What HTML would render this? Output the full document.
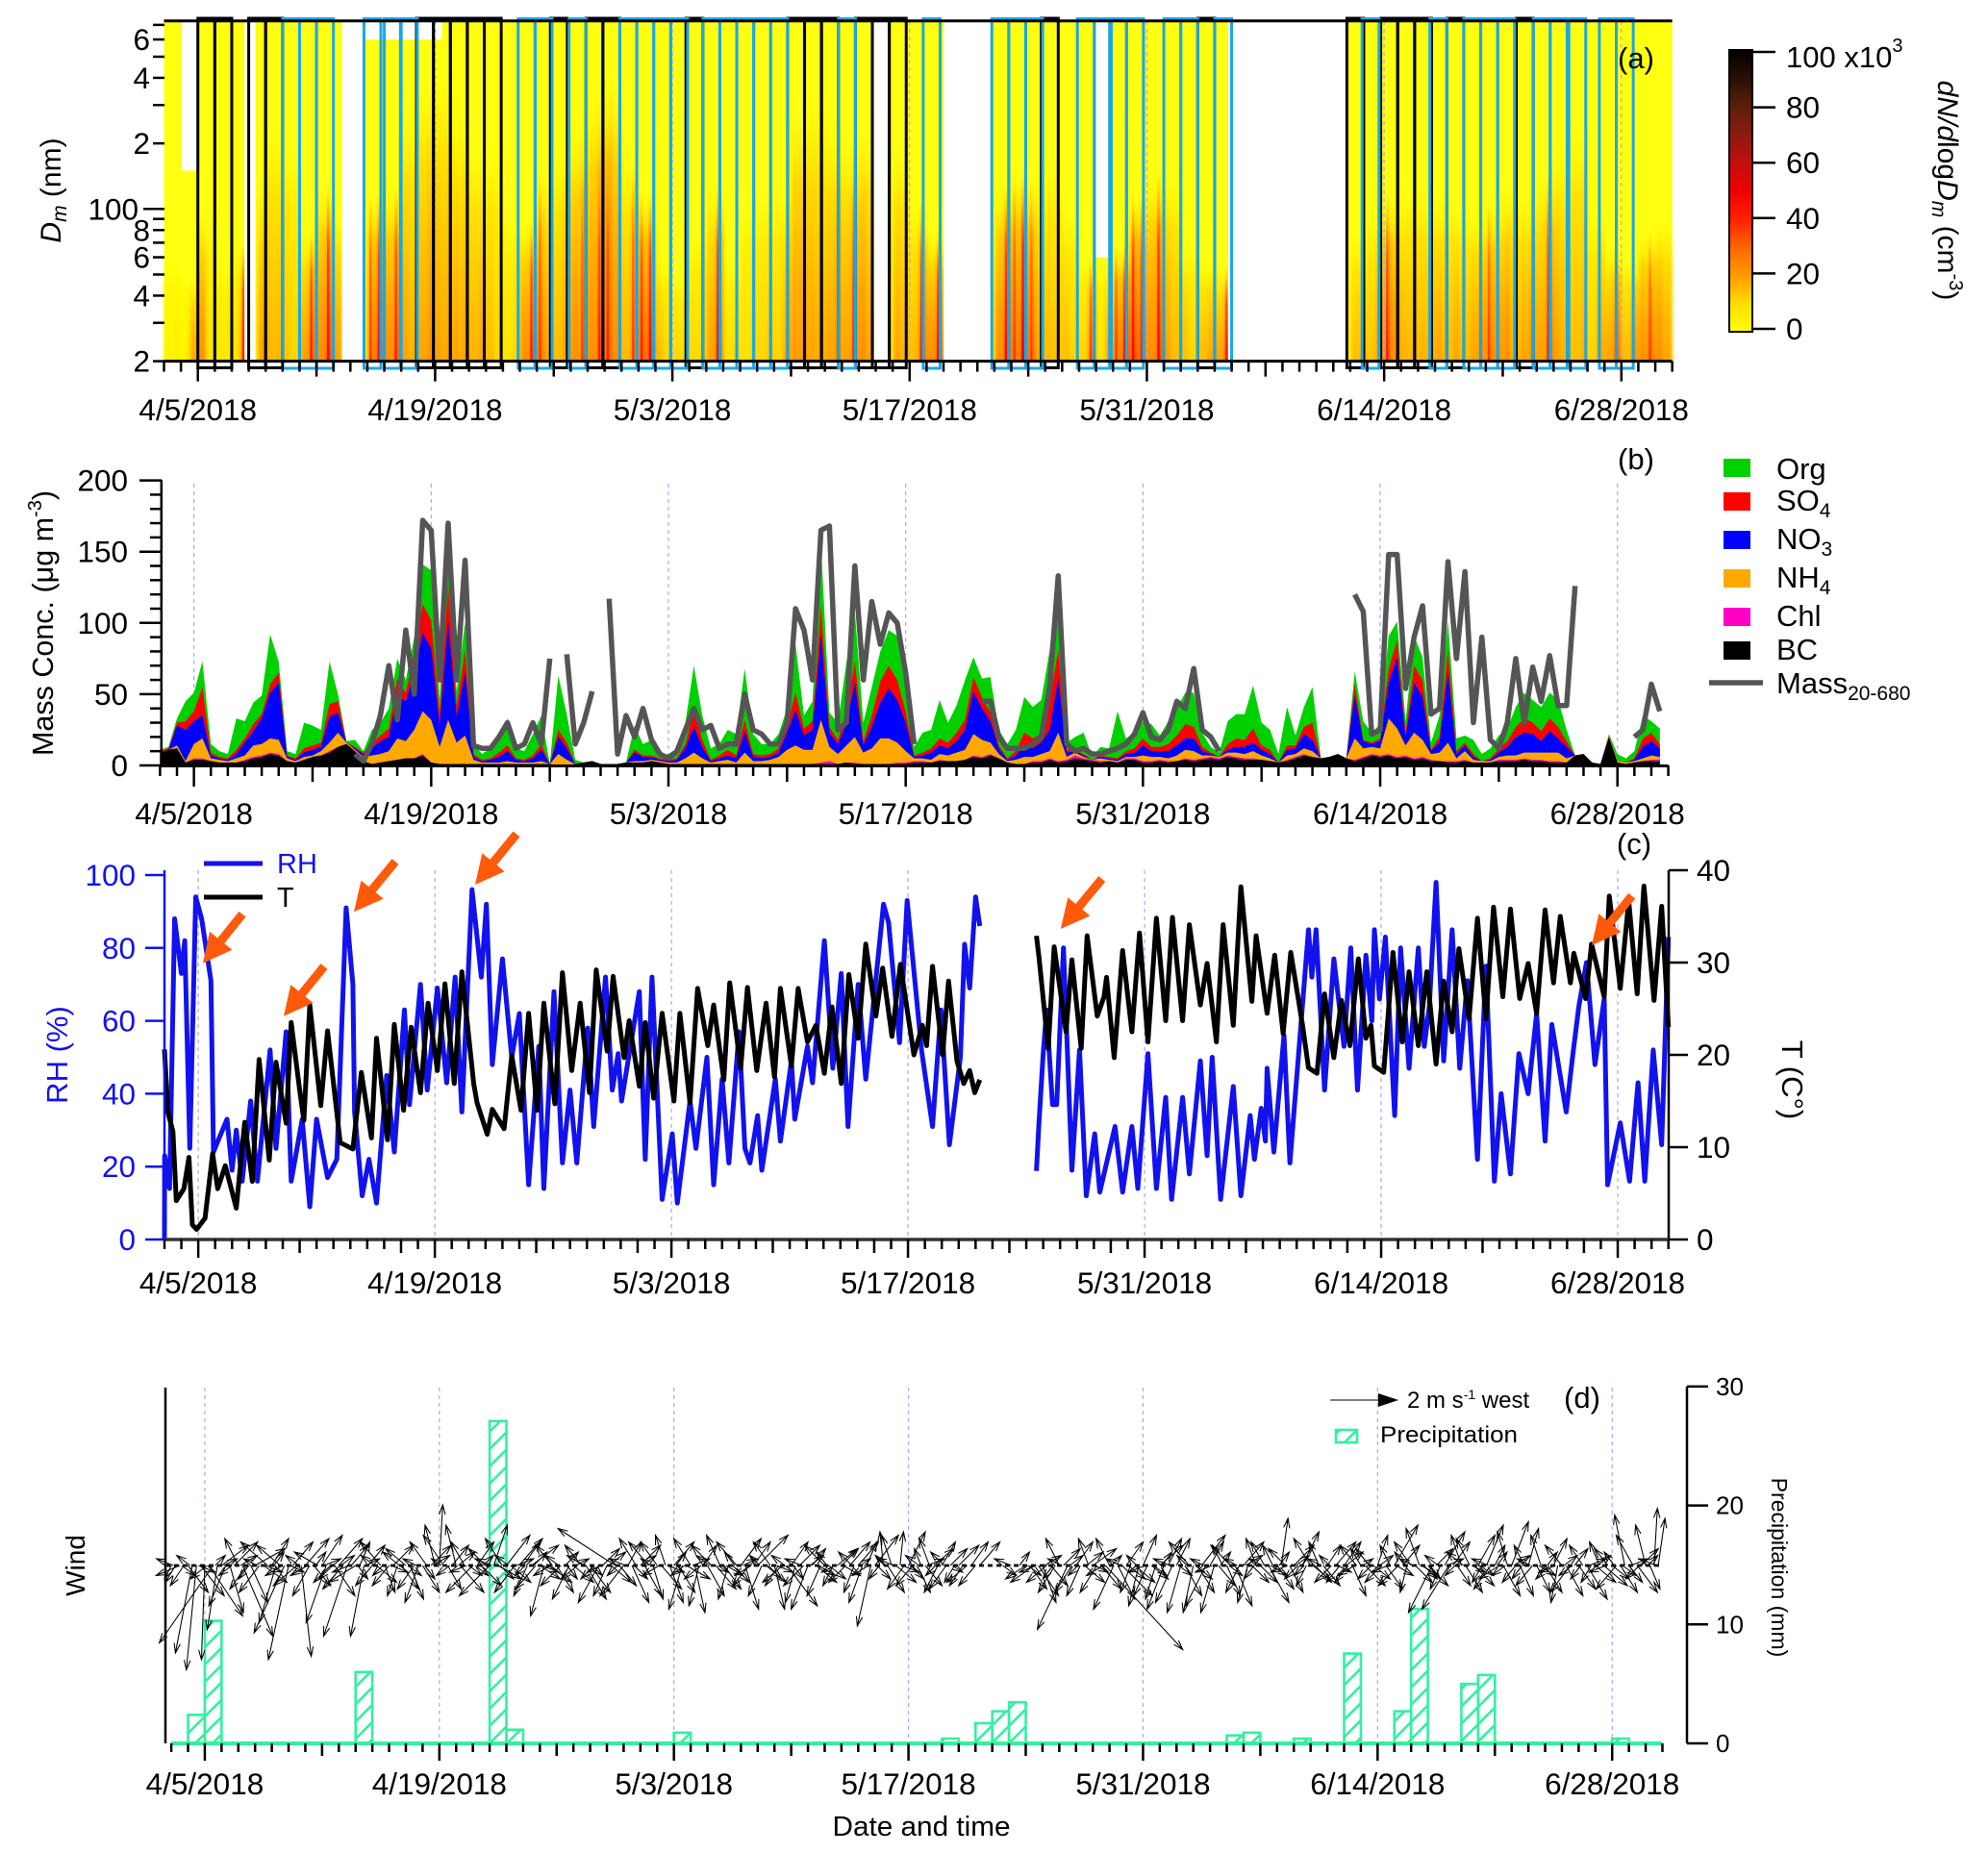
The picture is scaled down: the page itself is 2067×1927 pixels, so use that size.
<!DOCTYPE html>
<html lang="en">
<head>
<meta charset="utf-8">
<title>Aerosol size distribution, mass, RH, T, wind and precipitation</title>
<style>
html,body{margin:0;padding:0;background:#fff}
svg{display:block;font-family:"Liberation Sans",sans-serif}
</style>
</head>
<body>
<svg id="chart" xmlns="http://www.w3.org/2000/svg" width="2067" height="1927" viewBox="0 0 2067 1927">
<defs>
<pattern id="hatch" patternUnits="userSpaceOnUse" width="18" height="18">
<path d="M-3 3L3 -3M0 18L18 0M15 21L21 15" stroke="#33f0a0" stroke-width="2.6" fill="none"/>
</pattern>
<linearGradient id="cbar" x1="0" y1="1" x2="0" y2="0">
<stop offset="0" stop-color="#ffff00"/><stop offset=".1" stop-color="#ffdd00"/><stop offset=".2" stop-color="#ff9a00"/>
<stop offset=".3" stop-color="#ff6600"/><stop offset=".4" stop-color="#ff2000"/><stop offset=".5" stop-color="#f00000"/>
<stop offset=".6" stop-color="#c01010"/><stop offset=".7" stop-color="#8c1a10"/><stop offset=".8" stop-color="#5a200a"/>
<stop offset=".9" stop-color="#2a0f05"/><stop offset="1" stop-color="#000"/>
</linearGradient>
<filter id="heatBlur" filterUnits="userSpaceOnUse" x="160" y="10" width="1600" height="380">
<feGaussianBlur stdDeviation="2 0"/>
</filter>
</defs>

<g id="panelA"></g>
<g id="panelB"></g>
<g id="panelC"></g>
<g id="panelD"></g>

<g>
<text transform="rotate(-90 53 198)" x="53" y="208" font-size="30" text-anchor="middle"><tspan font-style="italic">D</tspan><tspan font-style="italic" font-size="21" dy="6">m</tspan><tspan dy="-6">  (nm)</tspan></text>
<text x="1701" y="71" font-size="31" text-anchor="middle">(a)</text>
<rect x="1798" y="52" width="24" height="293" fill="url(#cbar)" stroke="#000" stroke-width="2"/>
<text x="1857" y="70" font-size="31">100 x10<tspan font-size="20" dy="-16">3</tspan></text>
<text transform="rotate(90 2025 198)" x="2025" y="208" font-size="30" text-anchor="middle"><tspan font-style="italic">dN/d</tspan>log<tspan font-style="italic">D</tspan><tspan font-style="italic" font-size="21" dy="6">m</tspan><tspan dy="-6">  (cm</tspan><tspan font-size="20" dy="-12">-3</tspan><tspan dy="12">)</tspan></text>
</g>

<g>
<text transform="rotate(-90 45 648)" x="45" y="658" font-size="30.5" text-anchor="middle">Mass Conc.  (μg m<tspan font-size="20" dy="-12">-3</tspan><tspan dy="12">)</tspan></text>
<text x="1701" y="488" font-size="31" text-anchor="middle">(b)</text>
<rect x="1792" y="477" width="28" height="19" fill="#00d000"/>
<text x="1847" y="498" font-size="31">Org</text>
<rect x="1792" y="512" width="28" height="19" fill="#ff0000"/>
<text x="1847" y="531" font-size="31">SO<tspan font-size="21" dy="7">4</tspan></text>
<rect x="1792" y="552" width="28" height="19" fill="#0000ff"/>
<text x="1847" y="571" font-size="31">NO<tspan font-size="21" dy="7">3</tspan></text>
<rect x="1792" y="592" width="28" height="19" fill="#ffa800"/>
<text x="1847" y="611" font-size="31">NH<tspan font-size="21" dy="7">4</tspan></text>
<rect x="1792" y="632" width="28" height="19" fill="#ff00c8"/>
<text x="1847" y="651" font-size="31">Chl</text>
<rect x="1792" y="667" width="28" height="19" fill="#000"/>
<text x="1847" y="686" font-size="31">BC</text>
<line x1="1777" y1="710" x2="1833" y2="710" stroke="#555" stroke-width="5.5"/>
<text x="1847" y="721" font-size="31">Mass<tspan font-size="21" dy="7">20-680</tspan></text>
</g>

<g>
<text transform="rotate(-90 60 1097)" x="60" y="1107" font-size="31" fill="#1212ee" text-anchor="middle">RH (%)</text>
<text transform="rotate(90 1863 1123)" x="1863" y="1133" font-size="31" text-anchor="middle">T  (C°)</text>
<text x="1699" y="888" font-size="31" text-anchor="middle">(c)</text>
<line x1="212" y1="898" x2="273" y2="898" stroke="#1212ee" stroke-width="5"/>
<text x="288" y="908" font-size="29" fill="#1212ee">RH</text>
<line x1="212" y1="933" x2="273" y2="933" stroke="#000" stroke-width="5"/>
<text x="288" y="943" font-size="29">T</text>
</g>

<g>
<text transform="rotate(-90 78 1628)" x="78" y="1638" font-size="28" text-anchor="middle">Wind</text>
<text transform="rotate(90 1850 1630)" x="1850" y="1638" font-size="23" text-anchor="middle">Precipitation (mm)</text>
<text x="958" y="1909" font-size="29" text-anchor="middle" textLength="185" lengthAdjust="spacingAndGlyphs">Date and time</text>
<line x1="1383" y1="1456" x2="1435" y2="1456" stroke="#333" stroke-width="1.3"/>
<polygon points="1433,1449 1454,1456 1433,1463" fill="#000"/>
<text x="1463" y="1464" font-size="24">2 m s<tspan font-size="14" dy="-9">-1</tspan><tspan dy="9"> west</tspan></text>
<text x="1645" y="1464" font-size="31" text-anchor="middle">(d)</text>
<rect x="1389" y="1487" width="22" height="13" fill="url(#hatch)" stroke="#33f0a0" stroke-width="2.6"/>
<text x="1435" y="1500" font-size="24" textLength="143" lengthAdjust="spacingAndGlyphs">Precipitation</text>
</g>
</svg>

<script>
// ---------- shared axis data ----------
const dateLabels = ['4/5/2018','4/19/2018','5/3/2018','5/17/2018','5/31/2018','6/14/2018','6/28/2018'];
const dateDays = [2,16,30,44,58,72,86];
const mediumDays = [9,23,37,51,65,79];
const mediumDaysC = [8,14,22,28,36,42,50,56,64,70,78,84];
const lastDay = 89;

// ---------- panel (a) data ----------
const sizeTicks = [20,30,40,50,60,70,80,90,100,200,300,400,500,600,700];
const sizeLabelValues = [20,40,60,80,100,200,400,600];
const sizeLabels = ['2','4','6','8','100','2','4','6'];
const colorbarValues = [0,20,40,60,80];
const colorbarTopValue = 100;
const colormapValues = [0,10,20,30,40,50,60,70,80,90,100];
const colormapColors = [[255,255,0],[255,221,0],[255,154,0],[255,102,0],[255,32,0],[240,0,0],[192,16,16],[140,26,16],[90,32,10],[42,15,5],[0,0,0]];
const heatPeak = [
5,6,4,25,30,10,10,10,12,40,0,25,22,22,18,15,25,40,30,45,
25,20,0,0,35,45,30,40,25,22,25,30,25,25,25,25,22,25,20,15,
10,15,30,40,35,25,20,28,30,35,30,40,40,30,20,35,40,45,20,15,
15,15,15,15,25,45,12,15,12,15,15,18,15,25,28,30,25,25,25,30,
25,35,30,25,0,0,25,22,20,40,30,45,0,0,0,0,0,0,30,45,
35,50,35,25,20,20,20,15,15,35,10,25,35,45,45,40,30,45,25,20,
20,15,20,25,25,40,0,0,0,0,0,0,0,0,0,0,0,0,0,0,
20,22,18,30,40,30,22,22,22,25,25,20,25,20,25,30,35,30,30,22,
25,30,25,40,25,22,20,22,15,25,25,40,20,30,30,35,30,25];
const heatTop = [60,50,100,60,70,150,250,200,80,130,100,30,120,130,300,400,450,300,200,200,
100,90,150,200,250,350,400,180,120,60,50,80,130,60,110,120,130,300,350,250,
220,250,30,200,110,80,30,30,30,130,150,140,180,100,60,60,70,120,150,150,
70,60,55,30,30,30,30,30,30,30,80,100,120,130,130,120,110,100,110,130,
120,150,200,250,100,70,60,80,90];
const gapStarts = [1.05,4.75,10.5,11.9,41.9,46,55,62.8];
const gapEnds = [2,5.4,11.8,16.4,42.8,48.85,55.8,69.8];
const gapCeilingsNm = [150,20,20,600,20,20,60,20];
const blackBoxStarts = [2,3,5,6,14.9,15.9,16.9,17.9,18.9,22.8,24.9,25.9,30.8,36.8,37.8,38.8,40.8,41.8,42.8,51.77,61,69.8,71.8,72.8,73.8,75.7,79.8];
const blueBoxStarts = [7,8,9,11.8,13,13.95,20.9,21.9,23.9,26.9,27.9,28.9,29.9,31.8,32.8,33.8,34.8,35.8,39.8,44.8,48.85,49.85,50.85,53.9,54.9,55.8,56.8,59,60,62,70.7,74.7,76.7,77.7,78.7,80.8,81.8,82.9,84.7,85.7];

// ---------- panel (b) data, half-day samples from 4/3 ----------
const massTickLabels = [0,50,100,150,200];
const bc = [9,11,12,2,4,4,3,2,2,2,3,5,6,8,7,3,2,4,6,7,
9,13,15,10,3,1,2,3,4,5,5,7,2,1,1,1,1,1,1,1,
1,1,1,1,1,1,1,0,0,1,2,3,1,1,1,2,2,2,3,2,
1,1,1,1,1,1,1,1,1,1,1,1,1,1,1,1,1,1,1,1,
1,2,1,1,1,1,1,1,1,2,2,2,3,3,3,4,6,5,7,5,
2,1,1,2,2,4,2,3,5,4,3,2,3,2,4,4,2,2,3,2,
3,4,3,4,5,4,6,5,4,4,4,3,2,3,5,7,6,5,6,8,
5,3,5,7,6,7,5,6,4,5,3,3,2,2,3,2,2,2,3,3,
3,4,3,3,2,2,2,7,8,2,1,20,2,1,2,3,3,3];
const chl = [0,0,0,0,1,1,0,0,0,0,1,1,1,1,1,0,0,0,0,0,
1,0,0,0,0,0,0,0,0,0,0,1,0,0,0,0,0,0,0,0,
0,0,0,0,0,0,0,0,0,0,0,0,0,0,0,0,0,0,0,0,
0,0,0,0,0,0,0,0,0,0,0,0,0,0,0,0,0,0,1,2,
0,0,1,0,0,0,0,1,1,1,1,0,1,0,0,0,1,1,1,0,
0,0,0,1,1,1,1,1,2,1,1,1,0,0,1,1,1,1,1,1,
0,1,1,1,1,1,1,1,1,1,0,0,0,1,1,1,0,0,0,0,
0,1,1,1,1,1,1,1,1,1,1,0,1,1,1,0,0,0,1,1,
1,1,1,1,1,1,0,0,0,0,0,0,0,0,0,0,1,1];
const nh4 = [0,0,2,1,10,14,2,2,1,3,3,8,8,10,10,2,1,2,1,3,
6,10,1,1,3,6,6,7,15,12,20,30,30,12,31,15,20,3,1,1,
1,2,1,1,1,2,0,8,4,0,0,0,0,0,0,0,1,1,1,1,
1,1,4,8,4,1,2,3,1,8,2,2,3,5,10,13,10,10,30,10,
7,12,18,8,11,18,18,14,8,2,2,2,4,4,6,7,15,12,8,3,
1,3,5,3,5,5,20,2,2,1,0,2,1,1,1,1,4,3,2,2,
4,6,6,2,1,1,2,3,3,5,3,2,0,3,2,4,4,0,0,0,
0,15,6,5,5,25,20,7,18,12,4,6,13,2,6,2,1,1,2,3,
3,4,5,5,6,6,3,0,0,0,0,1,1,1,1,2,3,2];
const no3 = [0,0,14,22,16,16,2,1,1,3,9,10,18,32,40,1,1,3,4,3,
18,14,0,1,2,5,9,10,30,28,40,55,50,15,70,18,45,2,1,2,
4,7,2,1,3,8,0,12,8,0,0,0,0,0,0,0,6,3,2,1,
1,2,7,18,8,1,2,3,3,15,3,2,2,3,12,25,10,14,60,10,
7,15,38,5,15,25,35,30,20,1,2,5,6,5,8,14,30,22,15,4,
1,3,8,6,8,15,38,3,1,1,0,1,1,1,2,3,7,4,4,5,
7,8,9,3,1,0,2,4,5,6,4,3,0,4,4,10,8,0,0,0,
0,30,5,2,5,25,50,6,35,30,2,7,50,3,4,2,0,1,3,6,
13,14,13,8,15,10,8,0,0,0,0,0,0,0,1,8,10,6];
const so4 = [1,1,2,6,7,20,2,1,1,3,3,5,3,6,7,1,1,3,3,3,
9,8,0,1,1,3,4,6,12,6,15,20,20,8,25,8,15,2,1,1,
3,4,1,1,2,4,0,5,4,0,0,0,0,0,0,0,2,1,1,1,
1,1,3,12,5,1,2,4,2,8,2,2,2,3,5,12,5,6,20,4,
3,10,15,3,8,15,16,14,8,1,2,3,5,4,6,7,10,8,6,2,
1,3,9,7,6,20,20,2,1,1,0,1,1,1,2,3,5,3,3,5,
7,10,8,3,1,0,4,6,5,10,3,3,0,3,2,5,12,0,0,0,
0,8,1,1,2,10,12,3,12,12,1,4,15,2,2,2,0,1,3,4,
7,10,8,7,9,8,4,0,0,0,0,0,0,0,1,6,6,3];
const org = [1,1,3,14,13,18,6,4,3,22,12,15,13,35,8,3,3,18,14,9,
30,5,1,5,1,10,9,14,14,9,10,28,35,10,18,10,20,7,4,7,
11,19,7,6,15,20,0,38,20,3,0,0,0,0,0,0,17,8,11,2,
4,7,15,31,17,8,8,14,15,36,14,8,7,10,12,34,9,14,44,10,
12,33,35,13,20,21,25,31,18,6,14,13,27,14,19,28,14,13,25,11,
10,15,25,22,24,36,50,5,9,15,2,6,6,33,9,11,12,16,8,16,
19,22,24,10,4,3,16,17,18,30,16,14,6,27,7,14,25,0,0,0,
0,9,13,7,10,23,13,8,21,16,5,15,20,9,5,10,5,7,9,9,
14,18,16,17,18,19,8,0,0,0,0,1,5,3,5,16,8,11];
const mass = [null,null,null,null,null,null,null,null,null,null,null,null,null,null,null,null,null,null,null,null,
null,null,null,8,3,15,35,70,32,95,50,172,165,60,170,60,144,14,12,12,
20,30,12,15,30,15,75,null,78,15,30,52,null,117,8,35,20,40,18,8,
5,10,25,40,25,28,12,15,15,50,25,22,15,15,30,110,95,60,165,168,
25,30,140,60,115,85,107,100,65,15,null,null,null,null,null,null,null,45,45,20,
12,12,12,15,20,55,133,15,10,12,8,8,10,12,15,22,37,20,18,25,
45,40,68,25,20,10,null,null,null,null,null,null,null,null,null,null,null,null,null,null,
null,120,108,22,25,148,148,54,90,112,36,40,143,75,136,30,90,18,12,30,
75,30,69,45,77,42,42,126,null,null,null,null,null,null,20,25,57,38];

// ---------- panel (c) data ----------
const rhTickLabels = [0,20,40,60,80,100];
const tTickLabels = [0,10,20,30,40];
const rhDays = [0,0.01,.3,.6,1,1.2,1.5,1.85,2.2,2.75,2.9,3.25,3.7,4,4.25,4.6,5.1,5.5,6.25,6.6,7.2,7.5,8.15,8.6,9,9.65,10.2,10.75,11.15,11.25,11.7,12.1,12.55,13.15,13.6,14.2,14.5,15.15,15.55,16.15,16.7,17.2,17.6,18.2,18.75,19.05,19.4,20,20.55,21,21.55,22.15,22.45,23.05,23.55,24,24.4,25.05,25.4,26.1,26.5,26.85,27.05,28.1,28.45,28.85,29.45,30.05,30.35,31.1,31.45,32.1,32.5,33,33.4,34,34.35,34.65,35.1,35.35,36.15,36.45,37.1,37.3,38.05,38.35,39.05,39.55,40.05,40.45,41.05,41.5,42.55,42.85,43.5,43.95,44.8,45.45,45.95,46.45,47.1,47.35,47.65,48,48.25];
const rhValues = [0,23,14,88,73,82,25,94,88,71,24,28,33,19,30,16,38,16,52,25,57,16,33,9,33,17,22,91,70,35,12,22,10,45,24,63,37,70,41,69,43,72,35,96,72,92,48,77,50,62,15,53,14,68,21,41,21,58,31,72,41,51,38,68,22,72,11,29,10,38,25,50,15,44,21,57,25,21,34,19,44,27,49,33,53,43,82,47,73,31,70,44,92,87,54,93,52,31,63,26,50,81,69,94,86];
const rhDays2 = [51.6,51.75,52,52.2,52.55,52.8,53.2,53.7,54.15,54.55,55.05,55.35,56.25,56.7,57.25,57.6,58.2,58.7,59.25,59.6,60.25,60.65,61.3,61.7,62,62.5,63.25,63.7,64.25,64.5,64.9,65.15,65.25,65.65,66.25,66.6,67.7,67.9,68.15,68.65,69.2,69.8,70.2,70.6,71.1,71.45,71.6,71.9,72.25,72.8,73.15,73.65,74.2,74.55,74.85,75.25,75.7,76.2,76.65,77.1,77.7,78.2,78.7,79.1,79.65,80.15,80.7,81.2,81.7,82.1,82.95,83.35,83.7,84.15,84.65,85.2,85.4,86.15,86.7,87.2,87.6,88.1,88.6,89];
const rhValues2 = [18.8,32,51,63,37,37,80,19,52,12,29,13,31,13,31,14,51,14,39,11,39,18,49,23,50,11,42,12,34,22,36,27,47,24,56,21,85,72,85,41,77,53,80,41,78,60,85,66,83,34,80,47,80,53,64,98,49,85,47,71,22,75,16,40,18,51,40,62,27,59,35,51,64,76,48,66,15,32,16,43,16,52,26,83];
const tDays = [0,.2,.5,.7,1.15,1.45,1.65,1.9,2.4,2.85,3.15,3.6,4.25,4.6,4.75,5.2,5.6,6.2,6.6,7.2,7.5,8,8.25,8.6,9.25,9.65,10.4,11.15,11.65,12.25,12.55,13.2,13.6,14.15,14.6,15.15,15.6,16.15,16.6,17.15,17.6,18.3,18.5,19.1,19.4,20.1,20.55,21.1,21.55,22.05,22.45,23.1,23.55,24.1,24.6,25.15,25.55,26.2,26.55,27.2,27.5,28.1,28.45,28.95,29.45,30.15,30.5,31.1,31.55,32.15,32.5,33.1,33.45,34.1,34.5,35.05,35.6,36.1,36.45,37.1,37.5,38.05,38.55,39.05,39.5,40.05,40.5,41.05,41.5,42.1,42.5,43.05,43.55,44.35,44.85,45.1,45.45,46.05,46.4,46.9,47.3,47.65,47.95,48.25];
const tValues = [20.6,13.8,11.7,4.2,5.5,8.9,1.6,1.1,2.3,9.3,5.5,8,3.4,10,12.7,6.3,19.5,8.6,19.2,12.6,23.5,16.2,12.9,25.4,14.5,22.6,10.5,9.8,18.1,11,21.8,10.8,23.3,14,23,15.9,25.6,18.3,27.7,16.9,29,16.9,14.8,11.4,14.1,12,19.9,14,24.5,14,25.6,14.7,28.9,18.3,25.6,15.9,29.2,20.4,28.5,19.7,23.7,16.6,23.5,15.3,24.5,15,24.5,14.8,27.2,21,25.4,17.3,27.8,18.6,27.3,18.3,25.6,17.6,27.2,18.8,27.2,21.4,23.2,18,25.2,16.9,28.7,21.8,32,24.2,29.4,22,29.8,20,23.2,21,29.6,20,28,19.3,16.9,18.3,15.9,17.3];
const tDays2 = [51.6,51.75,52.3,52.65,53.35,53.7,54.25,54.6,55.2,55.6,55.75,56.2,56.7,57.25,57.7,58.2,58.7,59.25,59.65,60.25,60.65,61.3,61.7,62.25,62.65,63.25,63.7,64.35,64.6,65.25,65.7,66.2,66.65,67.35,67.7,68.2,68.65,69.2,69.65,70.15,70.65,71.1,71.4,71.6,72.15,72.7,73.25,73.65,74.2,74.7,75.25,75.7,76.2,76.6,77.2,77.7,78.2,78.65,79.2,79.65,80.2,80.7,81.2,81.7,82.2,82.6,83.2,83.4,84.1,84.45,85.2,85.5,86.15,86.65,87.15,87.55,88.15,88.6,89];
const tValues2 = [32.9,30.6,20.7,31.7,22.5,30.3,20.7,32.9,24.2,26.3,28.4,19.7,31.3,22.5,33.2,21.4,34.8,23.7,34.9,23.7,34.1,25.4,29.9,21.4,34.1,23.2,38.2,25.8,32.9,24.5,30.8,22.3,31.1,23.2,18.6,18,26.6,19.7,25.9,21,30.4,21.8,23.2,18.8,18.1,31.1,21.4,29,21,29,19,28,22.5,31.5,23.9,34.8,23.9,36,26.3,35.8,26.1,29.9,24.5,35.7,27.8,35,27.8,31,26.1,32,26.3,37.2,27.2,36.7,26.6,38.3,25.9,36.1,23];

// ---------- panel (d) data ----------
const precipTickLabels = [0,10,20,30];
const precipDays = [1,2,11,19,20,30,46,48,49,50,63,64,67,70,73,74,77,78,86];
const precipMm = [2.4,10.3,6,27.1,1.15,.9,.4,1.7,2.7,3.45,.67,.9,.4,7.55,2.7,11.3,5,5.75,.4];
// wind components (tenths of m/s), one sample every 6 hours from 4/3
const windU = [
-2,-3,-7,-4,6,-5,-3,7,-1,10,-16,-3,8,-5,4,7,-4,9,-5,5,
9,-6,7,-8,5,-5,-7,-9,-6,6,-7,3,7,-5,5,-7,6,-6,-5,6,
7,-6,-7,5,-8,3,-4,5,-5,6,-6,3,-5,6,-3,5,-6,4,-5,-4,
5,-5,6,-3,1,-6,4,5,-3,7,-4,4,-8,5,6,-5,-9,4,7,-5,
7,6,-6,7,5,-4,8,-6,6,-4,7,-5,5,-6,4,-5,6,-5,-5,6,
6,-4,-6,5,-4,6,-17,5,-7,4,5,-5,6,5,-6,3,-5,6,-3,4,
6,5,-4,7,-5,3,-3,4,5,-6,6,-4,5,-3,5,-6,6,4,-5,5,
9,-4,6,-5,3,-4,-6,9,5,-3,6,-6,-5,4,6,-4,-6,5,-3,6,
5,-5,6,-3,6,-4,3,-4,7,-3,-1,5,-3,6,1,-5,5,-5,4,-2,
5,-3,6,-4,4,-5,5,-3,6,-4,-6,5,-5,6,null,null,null,null,null,null,
null,null,null,null,-6,5,-7,6,4,-6,5,-5,-4,5,-9,-5,5,-4,6,-3,
7,-5,6,23,-4,-6,5,9,5,-3,6,-3,4,-4,5,-3,7,-5,4,-5,
4,-4,5,-6,-3,5,7,-6,4,-4,5,-3,4,-6,5,-4,6,-3,5,-3,
5,-4,6,-3,5,2,-5,4,6,-4,5,-3,-5,5,-3,5,4,-5,6,-4,
5,-4,4,-5,-3,6,-4,5,3,-5,5,-3,7,-6,5,-2,-5,5,-4,4,
6,-7,5,-3,6,-8,5,4,-3,5,-4,6,5,-3,5,-5,3,-6,5,-3,
5,-4,4,-3,3,-5,4,-3,5,-4,4,-2,-5,5,-6,4,5,-4,6,-3,
6,-3,7,-4,5,-6,5,-3,4,-5,6,5,-3,3,1,2];
const windV = [
-4,-5,-3,-6,-8,-26,-31,-9,-28,-15,-23,-19,6,-12,-14,7,8,-21,-7,-11,
5,-8,-5,7,8,-17,6,-20,-28,7,-6,-27,8,-9,-6,4,9,-17,-5,-9,
8,-7,-21,6,-5,7,-21,6,-6,-5,7,-8,-6,6,-9,-7,5,-10,-7,-11,
-8,7,6,12,18,9,-7,6,12,-8,7,-3,-8,7,-6,5,-9,12,-4,8,
9,-5,-8,8,7,-9,6,-7,-4,-15,-5,6,-8,-6,4,-10,-5,-4,6,-10,
-8,-4,-11,5,-9,-5,11,-6,-9,7,-11,8,6,-9,7,-10,7,-7,9,-11,
7,-8,-13,-4,8,-14,-12,6,-9,6,-7,9,-7,-10,-5,7,8,-13,-6,7,
9,-9,-5,7,-13,-6,-5,-12,7,-11,6,-6,-13,5,-5,-9,6,-4,-6,5,
5,-5,7,-8,7,-11,7,-18,9,-4,10,-8,9,-5,10,-7,10,-6,-8,5,
-6,8,5,-8,7,-7,5,-5,6,-6,-5,7,-6,7,null,null,null,null,null,null,
null,null,null,null,-4,-7,-5,-9,-11,-5,-6,-8,8,5,-19,-8,7,-9,-5,8,
5,-8,-7,-25,8,-13,-10,-9,7,-8,-5,-12,9,-9,-4,-10,6,-13,8,-11,
8,-14,-9,7,-14,-8,9,-12,7,-14,-6,6,-9,6,-12,-8,7,-11,-5,8,
-5,7,-11,6,-7,14,5,-8,6,-4,10,-6,8,-5,7,-6,6,-5,7,-5,
7,-5,-9,6,5,-6,5,-4,9,-5,-7,6,12,-6,6,-8,7,-5,11,-4,
-6,-14,5,-7,10,-13,7,-6,9,-8,8,-6,9,-5,12,-7,6,-4,-9,10,
13,-5,-9,6,11,-6,-8,9,-8,-4,8,-11,6,-9,-8,5,-7,6,-10,-5,
-5,7,-6,5,-4,-7,-8,15,-5,9,-8,5,12,-7,17,14];
// lighter winds between the main samples, every 12 hours from 4/3 + 3 h
const calmU = [
-5,4,-4,5,-5,3,4,-4,5,-3,-4,5,3,-5,4,-4,-5,3,5,-4,
4,-5,3,4,-4,-3,5,-5,4,-4,3,5,-3,-4,5,-5,4,3,-5,4,
-4,5,-3,4,5,-5,-4,3,4,-5,3,-4,5,-3,-5,4,4,-3,-5,5,
3,-4,5,-5,-4,3,5,-3,4,-5,-3,4,5,-4,3,-5,4,5,-3,-4,
5,-4,3,-5,4,-3,-5,5,4,-4,5,-3,-4,3,null,null,null,null,null,4,
-5,3,4,-5,5,-3,-4,4,-3,5,4,-5,3,-4,5,-3,-5,4,3,-5,
4,-3,5,-4,-5,3,4,-4,5,-3,-4,5,3,-5,4,-3,5,-4,-3,4,
5,-5,3,-4,4,-5,5,-3,-4,5,3,-4,5,-3,-5,4,4,-5,3,-4,
5,-3,-4,5,3,-5,4,-4,-3,5,4,-5,-3,4,5,-4,3,-5];
const calmV = [
2,-3,3,-2,-4,3,2,-3,3,-4,2,-2,4,-3,-2,3,-3,4,2,-4,
3,-2,-4,2,3,-3,-2,4,-3,2,-4,3,2,-3,4,-2,-3,3,2,-4,
3,2,-3,4,-2,-3,3,-4,2,3,-3,-2,4,-3,2,-4,3,2,-3,-2,
4,-3,2,-4,3,-2,-3,4,2,-3,3,-4,-2,3,-4,2,3,-3,4,-2,
-3,4,2,-3,-4,3,2,-2,-4,3,2,-3,4,-2,null,null,null,null,null,-3,
2,4,-3,-2,3,-4,2,3,-3,4,-2,-3,3,2,-4,3,-2,-3,4,2,
-3,3,-4,2,-2,4,-3,2,3,-4,2,-3,4,-2,3,-3,-4,2,3,-2,
4,-3,2,-4,3,-2,-3,4,2,-3,-4,3,2,-3,4,-2,-3,2,4,-3,
3,-4,2,-3,4,-2,3,-3,-4,2,3,-2,4,-3,2,-4,3,2];

// ---------- scales ----------
const NS = 'http://www.w3.org/2000/svg';
const xA = d => 170.5 + 17.62 * d;
const xB = d => 166.4 + 17.62 * d;
const xC = d => 171 + 17.57 * d;
const xD = d => 178.1 + 17.42 * d;
const yA = nm => 217.3 - 226.5 * Math.log10(nm / 100);
const yB = v => 796 - 1.482 * v;
const yRH = v => 1289 - 3.79 * v;
const yT = v => 1289 - 9.6 * v;
const yP = v => 1813 - 12.37 * v;
const yCbar = v => 342 - 2.88 * v;
const WIND_BASE = 1628, WIND_SCALE = 3.5;

function el(tag, parent, attrs) {
  const e = document.createElementNS(NS, tag);
  for (const k in attrs) e.setAttribute(k, attrs[k]);
  parent.appendChild(e);
  return e;
}
function tickLine(parent, x1, y1, x2, y2, color, width) {
  const t = el('line', parent, {x1, y1, x2, y2, stroke: color || '#000', 'stroke-width': width || 2.5});
  
  
  return t;
}
function label(parent, x, y, str, anchor, size, fill) {
  const t = el('text', parent, {x, y, 'text-anchor': anchor || 'middle', 'font-size': size || 31.5, fill: fill || '#000'});
  t.textContent = str;
  
  
  return t;
}
function timeAxis(g, xFn, y0, sLen, mLen, lLen, meds, labelY) {
  for (let d = 0; d <= lastDay; d++) {
    const len = dateDays.includes(d) ? lLen : meds.includes(d) ? mLen : sLen;
    tickLine(g, xFn(d), y0, xFn(d), y0 + len);
  }
  dateDays.forEach((d, i) => label(g, xFn(d), labelY + 11, dateLabels[i]));
}
function dashedGuides(g, xFn, y1, y2) {
  dateDays.forEach(d => {
    const l = el('line', g, {x1: xFn(d), x2: xFn(d), y1, y2, stroke: '#a9a6ff', 'stroke-width': 1.2, 'stroke-dasharray': '4 4'});
    
    
  });
}
function heatColor(v) {
  let i = 0;
  while (i < colormapValues.length - 2 && v > colormapValues[i + 1]) i++;
  const f = Math.min(1, Math.max(0, (v - colormapValues[i]) / (colormapValues[i + 1] - colormapValues[i])));
  const a = colormapColors[i], b = colormapColors[i + 1];
  return 'rgb(' + a.map((c, k) => Math.round(c + (b[k] - c) * f)).join(',') + ')';
}

// ---------- panel (a) ----------
(function () {
  const g = document.getElementById('panelA');
  const defs = document.querySelector('defs');
  const base = el('rect', g, {x: xA(0), y: yA(730), width: xA(lastDay) - xA(0), height: yA(20) - yA(730), fill: '#ffff10'});
  
  
  const soft = el('g', g, {filter: 'url(#heatBlur)'});
  
  
  const streaks = el('g', g, {});
  
  
  heatPeak.forEach((peak, i) => {
    if (!peak) return;
    const top = heatTop[Math.floor(i / 2)];
    const id = 'hc' + i;
    const lg = el('linearGradient', defs, {id, gradientUnits: 'userSpaceOnUse', x1: 0, x2: 0, y1: yA(20), y2: yA(top)});
    [[0, peak * .78], [.3, peak * .64], [.7, peak * .4], [1, peak * .15]].forEach(s => {
      el('stop', lg, {offset: s[0], 'stop-color': heatColor(s[1]), 'stop-opacity': s[0] === 1 ? 0 : 1});
    });
    const c = el('rect', soft, {x: xA(i / 2) + .5, y: yA(top), width: 8, height: yA(20) - yA(top), fill: 'url(#' + id + ')'});
    
    
    if (peak >= 35) {
      const sid = 'hs' + i;
      const sg = el('linearGradient', defs, {id: sid, gradientUnits: 'userSpaceOnUse', x1: 0, x2: 0, y1: yA(20), y2: yA(Math.min(top, 150))});
      el('stop', sg, {offset: 0, 'stop-color': heatColor(peak * 1.05)});
      el('stop', sg, {offset: .6, 'stop-color': heatColor(peak * .85), 'stop-opacity': .8});
      el('stop', sg, {offset: 1, 'stop-color': heatColor(peak * .5), 'stop-opacity': 0});
      const s = el('rect', streaks, {x: xA(i / 2) + 2, y: yA(Math.min(top, 150)), width: 2.5, height: yA(20) - yA(Math.min(top, 150)), fill: 'url(#' + sid + ')'});
      
      
    }
  });
  gapStarts.forEach((s, i) => {
    const r = el('rect', g, {x: xA(s), y: yA(730) - 1, width: xA(gapEnds[i]) - xA(s), height: yA(gapCeilingsNm[i]) - yA(730) + 1, fill: '#fff'});
    
    
  });
  dashedGuides(g, xA, 22, 376);
  blackBoxStarts.forEach(d => {
    const b = el('rect', g, {x: xA(d), y: 19, width: 17.6, height: 363.5, fill: 'none', stroke: '#000', 'stroke-width': 3});
    
    
  });
  blueBoxStarts.forEach(d => {
    const b = el('rect', g, {x: xA(d), y: 19.5, width: 17.6, height: 363.5, fill: 'none', stroke: '#19a7e6', 'stroke-width': 3});
    
    
  });
  tickLine(g, xA(0), yA(730), xA(lastDay), yA(730), '#000', 3);
  tickLine(g, xA(0), yA(20), xA(lastDay), yA(20), '#000', 3);
  timeAxis(g, xA, yA(20), 11, 16, 21, mediumDays, 426);
  sizeTicks.forEach(v => tickLine(g, v === 100 ? 149 : 159, yA(v), 171, yA(v)));
  sizeLabelValues.forEach((v, i) => label(g, v === 100 ? 144 : 156, yA(v) + 11, sizeLabels[i], 'end'));
  colorbarValues.concat([colorbarTopValue]).forEach(v => {
    tickLine(g, 1822, yCbar(v), 1846, yCbar(v));
  });
  colorbarValues.forEach(v => label(g, 1857, yCbar(v) + 11, String(v), 'start'));
})();

// ---------- panel (b) ----------
(function () {
  const g = document.getElementById('panelB');
  dashedGuides(g, xB, 503, 796);
  const layers = [
    {name: 'area-org', vals: org, color: '#00d000'},
    {name: 'area-so4', vals: so4, color: '#ff0000'},
    {name: 'area-no3', vals: no3, color: '#0000ff'},
    {name: 'area-nh4', vals: nh4, color: '#ffa800'},
    {name: 'area-chl', vals: chl, color: '#ff00c8'},
    {name: 'area-bc', vals: bc, color: '#000000'}
  ];
  layers.forEach((layer, li) => {
    const below = layers.slice(li);
    let pts = xB(0) + ',' + yB(0);
    layer.vals.forEach((_, i) => {
      const sum = below.reduce((a, s) => a + (s.vals[i] || 0), 0);
      pts += ' ' + xB(i / 2) + ',' + yB(sum);
    });
    pts += ' ' + xB((layer.vals.length - 1) / 2) + ',' + yB(0);
    const p = el('polygon', g, {points: pts, fill: layer.color});
    
    
  });
  let d = '', pen = false;
  mass.forEach((v, i) => {
    if (v === null) { pen = false; return; }
    d += (pen ? 'L' : 'M') + xB(i / 2) + ' ' + yB(v);
    pen = true;
  });
  const line = el('path', g, {d, fill: 'none', stroke: '#555', 'stroke-width': 5.5, 'stroke-linejoin': 'round'});
  
  
  tickLine(g, 167.8, 499, 167.8, 797, '#000', 2.5);
  tickLine(g, 167, 796.5, xB(lastDay), 796.5, '#000', 3);
  for (let v = 0; v <= 200; v += 10) tickLine(g, v % 50 === 0 ? 145 : 156, yB(v), 168, yB(v));
  massTickLabels.forEach(v => label(g, 133, yB(v) + 11, String(v), 'end'));
  timeAxis(g, xB, 796, 11, 17, 22, mediumDays, 846);
})();

// ---------- panel (c) ----------
(function () {
  const g = document.getElementById('panelC');
  dashedGuides(g, xC, 905, 1289);
  function polyline(days, vals, yFn, color, name) {
    const pts = days.map((d, i) => xC(d) + ',' + yFn(vals[i])).join(' ');
    const p = el('polyline', g, {points: pts, fill: 'none', stroke: color, 'stroke-width': 5, 'stroke-linejoin': 'round'});
    
    
  }
  polyline(rhDays, rhValues, yRH, '#1212ee', 'line-rh-part-1');
  polyline(rhDays2, rhValues2, yRH, '#1212ee', 'line-rh-part-2');
  polyline(tDays, tValues, yT, '#000', 'line-temperature-part-1');
  polyline(tDays2, tValues2, yT, '#000', 'line-temperature-part-2');

  tickLine(g, 171, 905, 171, 1289, '#1212ee', 2.5);
  rhTickLabels.forEach(v => {
    tickLine(g, 151, yRH(v), 171, yRH(v), '#1212ee');
    label(g, 141, yRH(v) + 11, String(v), 'end', 31.5, '#1212ee');
  });
  tickLine(g, 1735, 905, 1735, 1289, '#000', 2.5);
  tTickLabels.forEach(v => {
    tickLine(g, 1735, yT(v), 1755, yT(v));
    label(g, 1764, yT(v) + 11, String(v), 'start');
  });
  tickLine(g, 171, 1289, 1735, 1289, '#333', 3.5);
  timeAxis(g, xC, 1289, 10, 14, 19, mediumDaysC, 1334);

  const annotationTails = [[252,950.7],[337,1005],[411,896],[537,867.3],[1145.7,914],[1696.7,931.7]];
  const annotationTips = [[210.9,1001.7],[295,1056.7],[368,948.3],[494,920],[1102.8,966],[1655,983]];
  annotationTails.forEach((tail, i) => {
    const tip = annotationTips[i];
    const dx = tip[0] - tail[0], dy = tip[1] - tail[1], L = Math.hypot(dx, dy);
    const ux = dx / L, uy = dy / L, nx = -uy, ny = ux;
    const bx = tip[0] - ux * 30, by = tip[1] - uy * 30, s = 4.5, h = 15;
    const pts = [
      [tail[0] + nx * s, tail[1] + ny * s], [bx + nx * s, by + ny * s], [bx + nx * h, by + ny * h],
      tip, [bx - nx * h, by - ny * h], [bx - nx * s, by - ny * s], [tail[0] - nx * s, tail[1] - ny * s]
    ].map(p => p[0] + ',' + p[1]).join(' ');
    const a = el('polygon', g, {points: pts, fill: '#ff5a0a'});
    
    
  });
})();

// ---------- panel (d) ----------
(function () {
  const g = document.getElementById('panelD');
  dashedGuides(g, xD, 1443, 1813);
  tickLine(g, 172, 1443, 172, 1813, '#000', 2.5);
  precipDays.forEach((d, i) => {
    const h = yP(0) - yP(precipMm[i]);
    const b = el('rect', g, {x: xD(d), y: yP(precipMm[i]), width: 17.42, height: h, fill: 'url(#hatch)', stroke: '#33f0a0', 'stroke-width': 2.6});
    
    
  });
  const base = el('line', g, {x1: 178, y1: 1813, x2: 1728, y2: 1813, stroke: '#33f0a0', 'stroke-width': 4});
  
  
  const dash = el('line', g, {x1: 172, y1: WIND_BASE, x2: 1728, y2: WIND_BASE, stroke: '#000', 'stroke-width': 2.8, 'stroke-dasharray': '5 4'});
  
  
  function windArrow(day, u, v) {
    const x0 = xD(day), y0 = WIND_BASE;
    const x1 = x0 + u * WIND_SCALE, y1 = y0 - v * WIND_SCALE;
    const L = Math.hypot(x1 - x0, y1 - y0) || 1;
    const ux = (x1 - x0) / L, uy = (y1 - y0) / L, nx = -uy, ny = ux;
    const hb = 10, hw = 3.2;
    const d = 'M' + x0 + ' ' + y0 + 'L' + x1 + ' ' + y1 +
      'M' + (x1 - ux * hb + nx * hw) + ' ' + (y1 - uy * hb + ny * hw) + 'L' + x1 + ' ' + y1 +
      'L' + (x1 - ux * hb - nx * hw) + ' ' + (y1 - uy * hb - ny * hw);
    const a = el('path', g, {d, fill: 'none', stroke: '#000', 'stroke-width': 1.05});
    
    
  }
  windU.forEach((u, i) => {
    const v = windV[i];
    if (u === null || u === undefined || v === null || v === undefined) return;
    windArrow(i / 4, u, v);
  });
  calmU.forEach((u, i) => {
    const v = calmV[i];
    if (u === null || u === undefined || v === null || v === undefined) return;
    windArrow(i / 2 + .125, u, v);
  });
  tickLine(g, 1754, yP(30), 1754, yP(0), '#000', 2.5);
  precipTickLabels.forEach(v => {
    tickLine(g, 1754, yP(v), 1776, yP(v));
    label(g, 1784, yP(v) + 9, String(v), 'start', 26);
  });
  timeAxis(g, xD, 1813, 9, 13, 18, mediumDays, 1855);
})();
</script>
</body>
</html>
